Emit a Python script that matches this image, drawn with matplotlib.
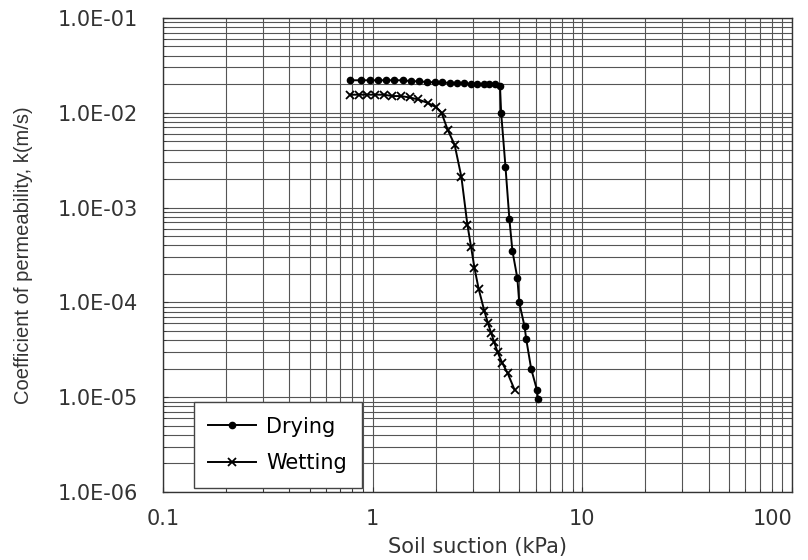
import numpy as np
import matplotlib.pyplot as plt
from matplotlib.ticker import FixedLocator, LogLocator, NullFormatter

# Drying curve (suction kPa, permeability m/s)
dry_suction = [0.78, 0.88, 0.97, 1.06, 1.16, 1.27, 1.4, 1.53, 1.67, 1.82, 1.98, 2.15,
               2.33, 2.52, 2.72, 2.93, 3.15, 3.38, 3.6, 3.85, 4.05,
               4.1, 4.3, 4.49, 4.64, 4.9, 5.0, 5.3, 5.4, 5.7, 6.07, 6.15]
dry_k = [2.2e-2, 2.2e-2, 2.2e-2, 2.2e-2, 2.2e-2, 2.2e-2, 2.2e-2, 2.15e-2, 2.15e-2, 2.1e-2,
         2.1e-2, 2.1e-2, 2.05e-2, 2.05e-2, 2.05e-2, 2.0e-2, 2.0e-2, 2.0e-2, 2.0e-2,
         2.0e-2, 1.9e-2,
         1.0e-2, 2.7e-3, 7.5e-4, 3.5e-4, 1.8e-4, 1.0e-4, 5.6e-5, 4.1e-5, 2.0e-5, 1.2e-5, 9.5e-6]

# Wetting curve
wet_suction = [0.78, 0.86, 0.94, 1.03, 1.13, 1.24, 1.36, 1.5, 1.65, 1.83, 2.0, 2.13,
               2.28, 2.46, 2.65, 2.83, 2.95, 3.06, 3.2, 3.41, 3.55, 3.67, 3.8, 3.94,
               4.15, 4.4, 4.75]
wet_k = [1.55e-2, 1.55e-2, 1.55e-2, 1.55e-2, 1.55e-2, 1.5e-2, 1.5e-2, 1.45e-2, 1.38e-2,
         1.27e-2, 1.15e-2, 1.0e-2, 6.6e-3, 4.6e-3, 2.1e-3, 6.6e-4, 3.8e-4, 2.3e-4, 1.4e-4,
         8.1e-5, 6.0e-5, 4.8e-5, 3.8e-5, 3.0e-5, 2.3e-5, 1.8e-5, 1.2e-5]

x_ticks = [0.1, 1, 10, 100]
x_labels = ['0.1', '1', '10', '100']
y_ticks = [1e-6, 1e-5, 1e-4, 1e-3, 1e-2, 1e-1]
y_labels = ['1.0E-06', '1.0E-05', '1.0E-04', '1.0E-03', '1.0E-02', '1.0E-01']

plt.rcParams['font.family'] = ['DejaVu Sans']

fig = plt.figure(figsize=(8.08, 5.6), dpi=100)
ax = fig.add_axes([0.2017, 0.1214, 0.7785, 0.8466])

ax.set_xscale('log')
ax.set_yscale('log')
ax.set_xlim(0.1, 100)
ax.set_ylim(1e-6, 1e-1)

ax.plot(dry_suction, dry_k, color='black', lw=1.4, marker='o', ms=4.5,
        label='Drying', zorder=3)
ax.plot(wet_suction, wet_k, color='black', lw=1.4, marker='x', ms=6, mew=1.3,
        label='Wetting', zorder=3)

ax.xaxis.set_major_locator(FixedLocator(x_ticks))
ax.set_xticklabels(x_labels)
ax.xaxis.set_minor_locator(LogLocator(base=10, subs=np.arange(2, 10)))
ax.xaxis.set_minor_formatter(NullFormatter())
ax.yaxis.set_major_locator(FixedLocator(y_ticks))
ax.set_yticklabels(y_labels)
ax.yaxis.set_minor_locator(LogLocator(base=10, subs=np.arange(2, 10)))
ax.yaxis.set_minor_formatter(NullFormatter())

ax.grid(True, which='both', color='#555555', lw=0.8)
ax.tick_params(which='both', direction='in', labelsize=15, colors='#333333')
ax.tick_params(axis='x', pad=12)
ax.tick_params(axis='y', pad=18)
# keep the last x label inside the figure
ax.get_xticklabels()[-1].set_horizontalalignment('right')
ax.get_xticklabels()[-1].set_x(100)

for s in ax.spines.values():
    s.set_color('#333333')
    s.set_linewidth(1.0)

ax.set_xlabel('Soil suction (kPa)', fontsize=15, color='#333333', labelpad=6)
ax.set_ylabel('Coefficient of permeability, k(m/s)', fontsize=14.5,
              family=['Liberation Sans'], color='#333333', labelpad=18)

leg = ax.legend(loc='lower left', bbox_to_anchor=(0.042, 0.0), fontsize=15,
                frameon=True, fancybox=False, edgecolor='#444444',
                borderpad=0.7, labelspacing=0.8, handlelength=2.3,
                handletextpad=0.5, borderaxespad=0.2)
leg.get_frame().set_linewidth(1.0)
leg.get_frame().set_alpha(1)

fig.savefig('out.png', dpi=100)
